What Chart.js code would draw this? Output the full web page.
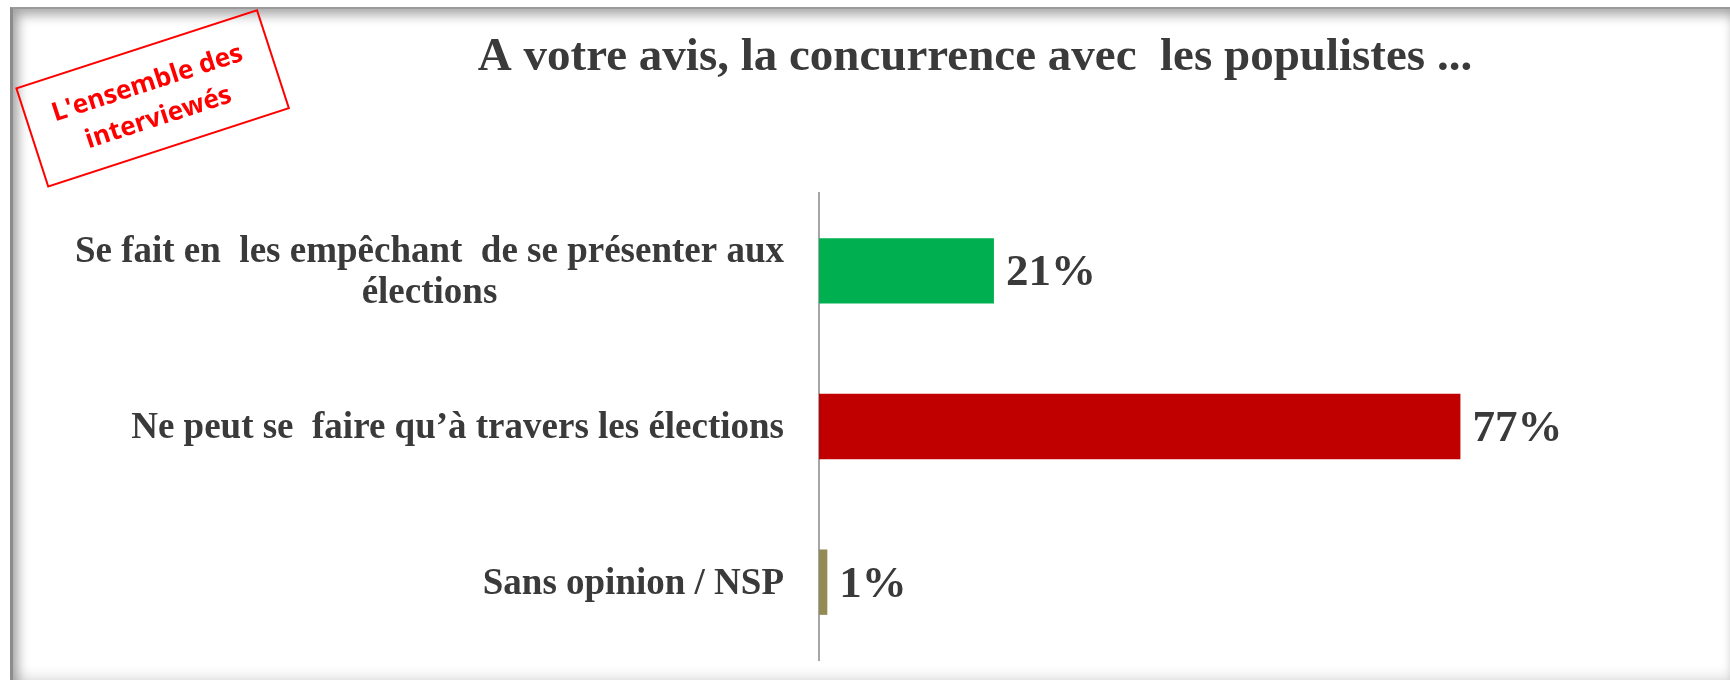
<!DOCTYPE html>
<html lang="fr">
<head>
<meta charset="utf-8">
<title>A votre avis, la concurrence avec les populistes</title>
<script src="https://cdn.jsdelivr.net/npm/chart.js@4.4.1/dist/chart.umd.min.js"></script>
<style>
  html, body { margin: 0; padding: 0; background: #fff; }
  #frame {
    position: absolute; left: 10px; top: 7px; width: 1720px; height: 673px;
    box-sizing: border-box;
    border-left: 3px solid #8c8c8c; border-top: 2px solid #9a9a9a;
    box-shadow: inset 5px 6px 12px rgba(0,0,0,0.35), inset 0 -8px 10px rgba(0,0,0,0.06);
  }
  #wrap { position: absolute; left: 0; top: 0; width: 1730px; height: 680px; }
</style>
</head>
<body>
<div id="frame"></div>
<div id="wrap"><canvas id="chart" width="1730" height="680"></canvas></div>
<script>
// données du graphique
const categories = [
    ['Se fait en  les empêchant  de se présenter aux', 'élections'],
    ['Ne peut se  faire qu’à travers les élections'],
    ['Sans opinion / NSP']
];
const values = [21, 77, 1];
const barColors = ['#00b050', '#c00000', '#948a54'];
const titleText = 'A votre avis, la concurrence avec  les populistes ...';
const stampLines = ["L'ensemble des", 'interviewés'];

const serif = '"Liberation Serif", "Times New Roman", serif';

// titre, tampon, libellés des catégories et valeurs
const decor = {
    id: 'decor',
    afterDraw(chart) {
        const ctx = chart.ctx;
        const y = chart.scales.y;
        const meta = chart.getDatasetMeta(0);

        ctx.save();
        ctx.fillStyle = '#3a3a3a';
        ctx.font = 'bold 47px ' + serif;
        ctx.textAlign = 'center';
        ctx.textBaseline = 'alphabetic';
        ctx.fillText(titleText, 975, 70);

        // libellés à gauche : bloc aligné à droite, lignes centrées
        ctx.font = 'bold 37px ' + serif;
        ctx.textBaseline = 'middle';
        const right = 784, lineH = 41;
        categories.forEach((lines, i) => {
            const widths = lines.map(l => ctx.measureText(l).width);
            const block = Math.max(...widths);
            const cy = y.getPixelForValue(i);
            lines.forEach((l, k) => {
                const ly = cy + (k - (lines.length - 1) / 2) * lineH;
                ctx.fillText(l, right - block / 2, ly + 2);
            });
        });

        // valeurs au bout des barres
        ctx.font = 'bold 45px ' + serif;
        ctx.textAlign = 'left';
        meta.data.forEach((bar, i) => {
            ctx.fillText(values[i] + '%', bar.x + 12, bar.y + 3);
        });

        // tampon rouge
        ctx.translate(152, 98);
        ctx.rotate(-18 * Math.PI / 180);
        ctx.strokeStyle = '#ff0000';
        ctx.lineWidth = 2;
        ctx.strokeRect(-126, -51, 253, 103);
        ctx.fillStyle = '#ff0000';
        ctx.font = 'bold 26px "Open Sans", "Liberation Sans", sans-serif';
        ctx.textAlign = 'center';
        ctx.fillText(stampLines[0], 0, -15);
        ctx.fillText(stampLines[1], 0, 21);
        ctx.restore();
    }
};

new Chart(document.getElementById('chart'), {
    type: 'bar',
    data: {
        labels: categories.map(c => c.join(' ')),
        datasets: [{
            data: values,
            backgroundColor: barColors,
            categoryPercentage: 1,
            barPercentage: 0.42
        }]
    },
    options: {
        indexAxis: 'y',
        responsive: false,
        animation: false,
        layout: { padding: { top: 193, bottom: 20, right: 78, left: 0 } },
        plugins: { legend: { display: false }, tooltip: { enabled: false } },
        scales: {
            x: { display: false, min: 0, max: 100 },
            y: {
                ticks: { display: false },
                grid: { display: false },
                border: { display: true, color: '#a6a6a6', width: 2 },
                afterFit(scale) { scale.width = 819; }
            }
        }
    },
    plugins: [decor]
});
</script>
</body>
</html>
